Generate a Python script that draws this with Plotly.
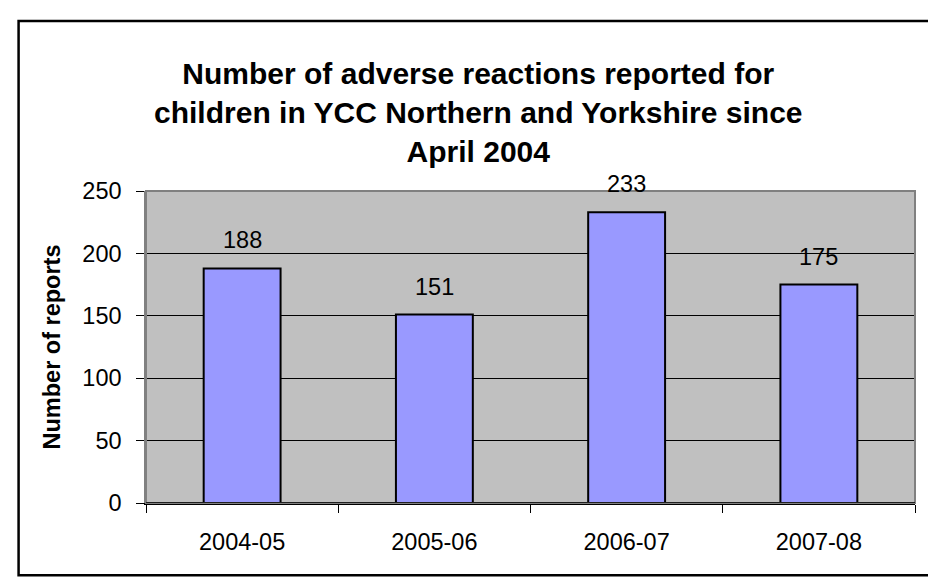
import plotly.graph_objects as go

categories = ["2004-05", "2005-06", "2006-07", "2007-08"]
reports = [188, 151, 233, 175]
y_ticks = [0, 50, 100, 150, 200, 250]

title_text = ("Number of adverse reactions reported for<br>"
              "children in YCC Northern and Yorkshire since<br>"
              "April 2004")

FONT = "Liberation Sans, Arial, sans-serif"

# plot-area geometry in pixels
PL, PR, PT, PB = 137.5, 907.0, 182.5, 495.5
W, H = 936, 578

def px_x(p):
    return (p - PL) / (PR - PL)

def px_y(p):
    return (PB - p) / (PB - PT)

fig = go.Figure()
fig.add_trace(go.Bar(
    x=categories, y=reports,
    marker=dict(color="#9999FF", line=dict(color="#000000", width=2)),
    width=0.4,
    hoverinfo="x+y",
))

annotations = [
    dict(x=c, y=v, xref="x", yref="y", text=str(v), showarrow=False,
         yanchor="bottom", yshift=13, font=dict(family=FONT, size=23.5, color="#000"))
    for c, v in zip(categories, reports)
]

fig.update_layout(
    width=W, height=H,
    margin=dict(l=PL, r=W - PR, t=PT, b=H - PB),
    paper_bgcolor="#FFFFFF",
    plot_bgcolor="#C0C0C0",
    font=dict(family=FONT, size=23.5, color="#000"),
    showlegend=False,
    title=dict(text="<b>" + title_text + "</b>",
               font=dict(family=FONT, size=30, color="#000"),
               xref="paper", x=px_x(470), xanchor="center",
               yref="container", y=1 - 76 / H, yanchor="top"),
    xaxis=dict(
        type="category", tickson="boundaries",
        ticks="outside", ticklen=8, tickwidth=1, tickcolor="#000",
        showgrid=False, showline=True, linecolor="#000", linewidth=1.5,
        ticklabelstandoff=17,
        tickfont=dict(family=FONT, size=23.5, color="#000"),
        range=[-0.5, 3.5],
    ),
    yaxis=dict(
        range=[0, 250], tickvals=y_ticks,
        ticks="outside", ticklen=8, tickwidth=1, tickcolor="#000",
        showgrid=True, gridcolor="#000000", gridwidth=1,
        zeroline=False, showline=True, linecolor="#808080", linewidth=1.5,
        ticklabelstandoff=10,
        tickfont=dict(family=FONT, size=23.5, color="#000"),
        title=dict(text="<b>Number of reports</b>", standoff=15,
                   font=dict(family=FONT, size=23.5, color="#000")),
    ),
    annotations=annotations,
    shapes=[
        # plot-area border (grey)
        dict(type="rect", xref="paper", yref="paper", x0=0, x1=1, y0=0, y1=1,
             line=dict(color="#808080", width=2), layer="above"),
        # outer chart border
        dict(type="rect", xref="paper", yref="paper",
             x0=px_x(10), x1=px_x(926),
             y0=px_y(568), y1=px_y(12),
             line=dict(color="#000000", width=2.5)),
    ],
)
fig.add_hline(y=0, line=dict(color="#000", width=1.5), layer="above")

fig.write_html("out.html")
